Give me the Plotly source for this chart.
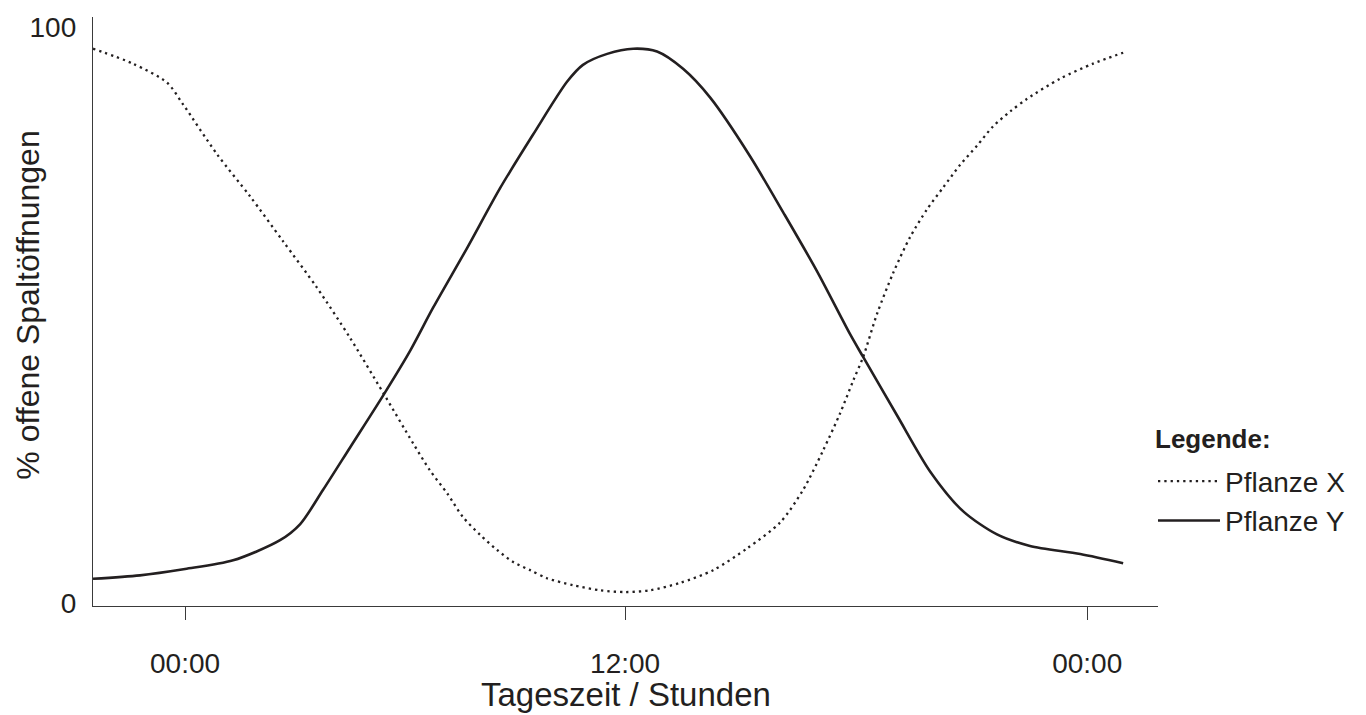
import plotly.graph_objects as go

# Hours relative to midnight (00:00 = 0) and % open stomata
hours_x = [-2.51, -1.42, -0.49, -0.05, 0.87, 1.77, 2.67, 3.60, 4.50, 5.40, 6.22, 6.68,
           7.15, 7.58, 8.05, 8.51, 8.95, 9.41, 9.87, 10.58, 11.32, 12.00, 12.68, 13.50,
           14.40, 15.33, 16.23, 16.85, 17.40, 17.86, 18.22, 18.49, 18.87, 19.31, 19.77,
           20.23, 20.67, 21.13, 21.60, 22.03, 22.50, 22.96, 23.86, 24.76, 25.58]
pflanze_x = [96.2, 93.6, 90.3, 86.5, 77.9, 70.6, 62.8, 54.7, 46.0, 36.5, 27.7, 23.0,
             19.0, 14.9, 11.8, 9.2, 7.1, 5.7, 4.3, 3.1, 2.2, 1.9, 2.2, 3.5,
             5.7, 9.5, 14.0, 19.6, 26.5, 32.9, 38.6, 42.7, 50.2, 57.3, 63.5,
             68.3, 72.1, 76.0, 79.4, 82.7, 85.3, 87.5, 91.0, 93.6, 95.5]

hours_y = [-2.51, -1.23, 0.00, 1.31, 2.59, 3.14, 3.76, 4.50, 5.40, 6.14, 6.76, 7.69,
           8.59, 9.49, 10.42, 10.85, 11.51, 12.22, 12.87, 13.58, 14.32, 15.41, 16.31,
           17.23, 18.13, 18.49, 19.42, 20.32, 21.22, 22.14, 23.04, 24.41, 25.58]
pflanze_y = [4.2, 4.8, 5.9, 7.4, 10.9, 13.7, 19.6, 27.0, 36.0, 43.8, 51.2, 61.6,
             72.0, 81.3, 90.5, 93.4, 95.3, 96.2, 95.7, 92.7, 87.7, 77.5, 67.8,
             57.6, 46.7, 42.7, 32.5, 22.8, 15.9, 11.9, 9.9, 8.5, 6.9]

x_tick_pos = [0, 12, 24.6]
x_tick_text = ["00:00", "12:00", "00:00"]
y_tick_pos = [0, 100]
y_tick_text = ["0", "100"]

FONT = "Liberation Sans, Arial, Helvetica, sans-serif"
INK = "#231f20"

fig = go.Figure()
fig.add_trace(go.Scatter(
    x=hours_x, y=pflanze_x, mode="lines", name="Pflanze X", legendgroup="x",
    line=dict(color=INK, width=2.3, dash="2.3px,4px", shape="spline", smoothing=0.8),
))
fig.add_trace(go.Scatter(
    x=hours_y, y=pflanze_y, mode="lines", name="Pflanze Y", legendgroup="y",
    line=dict(color=INK, width=2.6, shape="spline", smoothing=0.8),
))

fig.update_layout(
    width=1366, height=715,
    margin=dict(l=93, r=208, t=15, b=109),
    paper_bgcolor="white", plot_bgcolor="white",
    font=dict(family=FONT, size=28, color=INK),
    showlegend=True,
    legend=dict(
        x=0.9953, xanchor="left", y=0.254, yanchor="top",
        tracegroupgap=0, traceorder="grouped",
        itemwidth=62, font=dict(size=28), bgcolor="rgba(0,0,0,0)",
    ),
    xaxis=dict(
        range=[-2.51, 26.53], showgrid=False, zeroline=False,
        showline=True, linecolor="#3a3a3a", linewidth=1.3,
        tickmode="array", tickvals=x_tick_pos, ticktext=x_tick_text,
        ticks="outside", ticklen=13, tickwidth=1.3, tickcolor="#3a3a3a",
        ticklabelstandoff=19, tickfont=dict(size=28),
    ),
    yaxis=dict(
        range=[-0.52, 101.7], showgrid=False, zeroline=False,
        showline=True, linecolor="#3a3a3a", linewidth=1.3,
        tickmode="array", tickvals=y_tick_pos, ticktext=y_tick_text,
        ticks="", ticklabelstandoff=10, tickfont=dict(size=28),
    ),
    annotations=[
        dict(text="Tageszeit / Stunden", xref="paper", yref="paper",
             x=0.5, y=-0.1506, xanchor="center", yanchor="middle",
             showarrow=False, font=dict(size=33)),
        dict(text="% offene Spaltöffnungen", xref="paper", yref="paper",
             x=-0.061, y=0.51, xanchor="center", yanchor="middle",
             textangle=-90, showarrow=False, font=dict(size=32)),
        dict(text="<b>Legende:</b>", xref="paper", yref="paper",
             x=0.9955, y=0.2843, xanchor="left", yanchor="middle",
             showarrow=False, font=dict(size=26)),
    ],
)

fig.write_html(
    "out.html",
    config={"displayModeBar": False},
    post_script="document.body.style.margin='0';document.body.style.overflow='hidden';",
)
